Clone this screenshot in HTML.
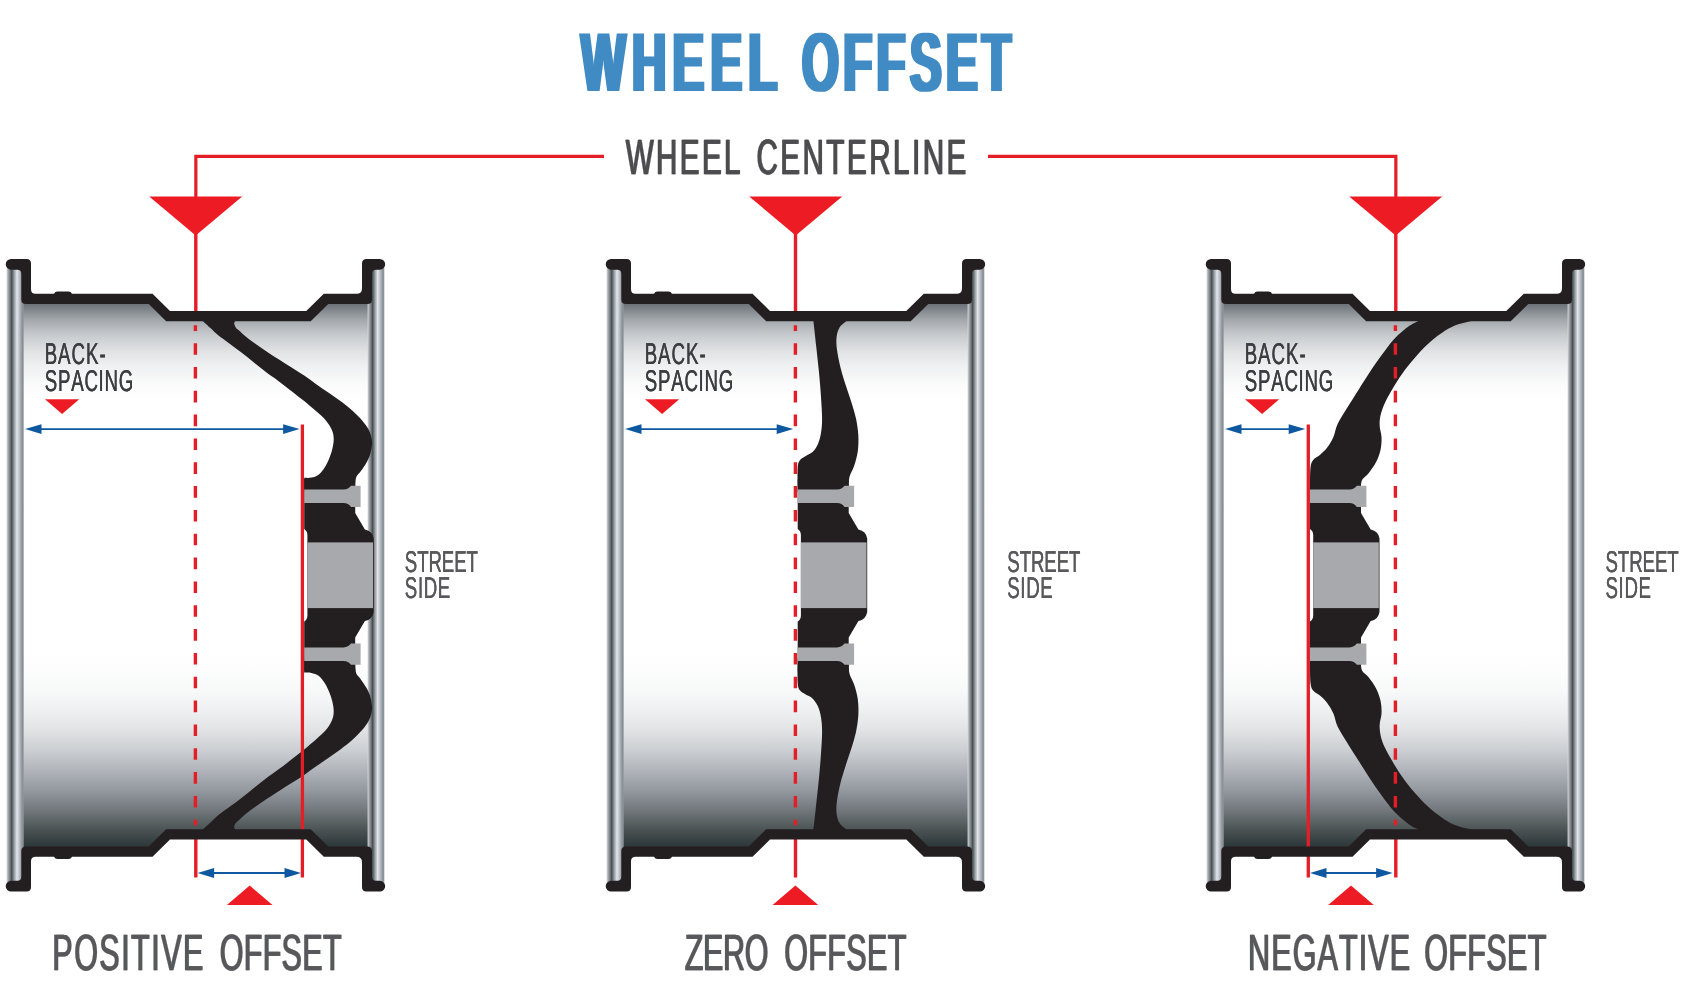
<!DOCTYPE html>
<html lang="en">
<head>
<meta charset="utf-8">
<title>Wheel Offset</title>
<style>
html,body{margin:0;padding:0;background:#fff;}
body{width:1700px;height:994px;overflow:hidden;}
svg{display:block;}
text{font-family:"Liberation Sans",sans-serif;font-kerning:none;text-rendering:geometricPrecision;}
</style>
</head>
<body>
<svg width="1700" height="994" viewBox="0 0 1700 994">
<defs>
<linearGradient id="gTop" gradientUnits="userSpaceOnUse" x1="0" y1="303" x2="0" y2="400"><stop offset="0" stop-color="#696f75"/><stop offset="0.17" stop-color="#a2a7ab"/><stop offset="0.33" stop-color="#c7cacd"/><stop offset="0.49" stop-color="#dfe1e3"/><stop offset="0.65" stop-color="#eff0f1"/><stop offset="0.85" stop-color="#fbfbfb"/><stop offset="1" stop-color="#ffffff"/></linearGradient>
<linearGradient id="gBot" gradientUnits="userSpaceOnUse" x1="0" y1="650" x2="0" y2="847"><stop offset="0" stop-color="#ffffff"/><stop offset="0.10" stop-color="#fdfdfd"/><stop offset="0.20" stop-color="#f8f9f9"/><stop offset="0.305" stop-color="#eff0f1"/><stop offset="0.41" stop-color="#e0e2e4"/><stop offset="0.51" stop-color="#cbced2"/><stop offset="0.61" stop-color="#b1b5bb"/><stop offset="0.715" stop-color="#92989e"/><stop offset="0.82" stop-color="#6f7579"/><stop offset="0.87" stop-color="#5b6365"/><stop offset="0.92" stop-color="#485052"/><stop offset="0.97" stop-color="#363f41"/><stop offset="1" stop-color="#2d3638"/></linearGradient>
<linearGradient id="gChrome" gradientUnits="objectBoundingBox" x1="0" y1="0" x2="1" y2="0"><stop offset="0" stop-color="#d4d6d9"/><stop offset="0.12" stop-color="#9a9ea3"/><stop offset="0.30" stop-color="#465052"/><stop offset="0.45" stop-color="#9aa0a3"/><stop offset="0.605" stop-color="#e4e6ea"/><stop offset="0.78" stop-color="#b0b6c0"/><stop offset="0.915" stop-color="#8a9194"/><stop offset="1" stop-color="#8f9598"/></linearGradient>
<filter id="fat" filterUnits="userSpaceOnUse" x="560" y="20" width="480" height="90"><feMorphology operator="dilate" radius="2 0"/></filter>
<filter id="fx4" x="-2%" y="-10%" width="104%" height="120%"><feOffset dx="0.4" dy="0" result="o"/><feMerge><feMergeNode in="SourceGraphic"/><feMergeNode in="o"/></feMerge></filter>
<filter id="fx6" x="-2%" y="-10%" width="104%" height="120%"><feOffset dx="0.6" dy="0" result="o"/><feMerge><feMergeNode in="SourceGraphic"/><feMergeNode in="o"/></feMerge></filter>
<filter id="fx8" x="-2%" y="-10%" width="104%" height="120%"><feOffset dx="0.8" dy="0" result="o"/><feMerge><feMergeNode in="SourceGraphic"/><feMergeNode in="o"/></feMerge></filter>
</defs>
<rect width="1700" height="994" fill="#ffffff"/>
<path d="M195.85,234 L195.85,156.3 L604,156.3" fill="none" stroke="#e31e26" stroke-width="3.2"/>
<path d="M1395.85,234 L1395.85,156.3 L988,156.3" fill="none" stroke="#e31e26" stroke-width="3.2"/>
<g transform="translate(0,0)"><path d="M22,301 L149,301 L166.4,318.5 L310.5,318.5 L328,301 L370,301 L370,576 L22,576 Z" fill="url(#gTop)"/><path d="M22,849.5 L149,849.5 L166.4,832 L310.5,832 L328,849.5 L370,849.5 L370,575 L22,575 Z" fill="url(#gBot)"/><rect x="6.6" y="266" width="17.1" height="618.5" fill="url(#gChrome)"/><rect x="367.6" y="266" width="16.7" height="618.5" fill="url(#gChrome)"/><path d="M202.7,314.9 L202.7,320.9 C204,322.1 207.9,325.6 210.5,328 C213.1,330.4 215.2,332.9 218.5,335.5 C221.8,338.1 226.1,341 230,343.9 C233.9,346.8 238.1,350 242.1,353.1 C246.1,356.2 250.2,359.6 254.2,362.8 C258.2,366 262.2,369.3 266.2,372.3 C270.2,375.3 274,377.7 278.3,380.9 C282.6,384.1 287.7,388 292,391.4 C296.3,394.8 300.2,397.8 304.2,401.1 C308.2,404.4 312.6,408.1 316.2,411.3 C319.8,414.5 323.3,417.3 325.9,420.4 C328.5,423.5 330.6,427 331.9,430 C333.2,433 333.6,435.5 333.7,438.5 C333.8,441.5 333.2,445 332.5,448.2 C331.8,451.4 330.8,454.6 329.5,457.8 C328.2,461 326.5,464.7 324.7,467.5 C322.9,470.3 320.8,473 318.6,474.7 C316.4,476.4 313.8,477.1 311.4,477.6 C309,478.1 305.4,477.8 304.2,477.8 L304.2,492 L355.2,492 L355.2,483.9 C355.4,482.8 355.4,479.1 356.3,477 C357.2,474.9 359.2,473.5 360.9,471.1 C362.6,468.7 364.8,465.5 366.4,462.7 C367.9,459.9 369.3,457.2 370.2,454.2 C371.1,451.2 371.8,447.3 372,444.5 C372.2,441.7 372,439.9 371.4,437.3 C370.8,434.7 369.8,431.6 368.2,428.8 C366.6,426 364.7,423.4 362.1,420.4 C359.5,417.4 356.1,413.9 352.5,410.7 C348.9,407.5 344.4,404.1 340.4,401.1 C336.4,398.1 332.3,395.4 328.3,392.6 C324.3,389.8 320.2,387 316.2,384.2 C312.2,381.4 308.2,378.3 304.2,375.6 C300.2,372.9 296.2,370.5 292,367.8 C287.8,365.1 283.3,362.4 279,359.6 C274.7,356.8 270.2,353.9 266.2,351.2 C262.2,348.5 258.4,346 255,343.6 C251.6,341.2 248.4,338.9 245.7,336.6 C242.9,334.4 240.2,331.6 238.5,330.1 C236.8,328.6 236.5,328.4 235.8,327.4 C235.1,326.3 234.3,324.9 234.2,323.8 C234.1,322.7 234.9,321.4 235,320.9 L235,314.9 Z" fill="#231f20"/><path d="M202.7,314.9 L202.7,320.9 C204,322.1 207.9,325.6 210.5,328 C213.1,330.4 215.2,332.9 218.5,335.5 C221.8,338.1 226.1,341 230,343.9 C233.9,346.8 238.1,350 242.1,353.1 C246.1,356.2 250.2,359.6 254.2,362.8 C258.2,366 262.2,369.3 266.2,372.3 C270.2,375.3 274,377.7 278.3,380.9 C282.6,384.1 287.7,388 292,391.4 C296.3,394.8 300.2,397.8 304.2,401.1 C308.2,404.4 312.6,408.1 316.2,411.3 C319.8,414.5 323.3,417.3 325.9,420.4 C328.5,423.5 330.6,427 331.9,430 C333.2,433 333.6,435.5 333.7,438.5 C333.8,441.5 333.2,445 332.5,448.2 C331.8,451.4 330.8,454.6 329.5,457.8 C328.2,461 326.5,464.7 324.7,467.5 C322.9,470.3 320.8,473 318.6,474.7 C316.4,476.4 313.8,477.1 311.4,477.6 C309,478.1 305.4,477.8 304.2,477.8 L304.2,492 L355.2,492 L355.2,483.9 C355.4,482.8 355.4,479.1 356.3,477 C357.2,474.9 359.2,473.5 360.9,471.1 C362.6,468.7 364.8,465.5 366.4,462.7 C367.9,459.9 369.3,457.2 370.2,454.2 C371.1,451.2 371.8,447.3 372,444.5 C372.2,441.7 372,439.9 371.4,437.3 C370.8,434.7 369.8,431.6 368.2,428.8 C366.6,426 364.7,423.4 362.1,420.4 C359.5,417.4 356.1,413.9 352.5,410.7 C348.9,407.5 344.4,404.1 340.4,401.1 C336.4,398.1 332.3,395.4 328.3,392.6 C324.3,389.8 320.2,387 316.2,384.2 C312.2,381.4 308.2,378.3 304.2,375.6 C300.2,372.9 296.2,370.5 292,367.8 C287.8,365.1 283.3,362.4 279,359.6 C274.7,356.8 270.2,353.9 266.2,351.2 C262.2,348.5 258.4,346 255,343.6 C251.6,341.2 248.4,338.9 245.7,336.6 C242.9,334.4 240.2,331.6 238.5,330.1 C236.8,328.6 236.5,328.4 235.8,327.4 C235.1,326.3 234.3,324.9 234.2,323.8 C234.1,322.7 234.9,321.4 235,320.9 L235,314.9 Z" fill="#231f20" transform="translate(0,1150.5) scale(1,-1)"/><g transform="translate(0,0)"><path d="M304.2,479 L355.2,479 L355.2,513 L364.9,529.5 Q372.6,531 373.7,538.5 L373.7,612 Q372.6,619.5 364.9,621 L355.2,637.5 L355.2,671.5 L304.2,671.5 L304.2,621.5 Q307.4,619.5 307.4,615.5 L307.4,535 Q307.4,531 304.2,529 Z" fill="#231f20"/><rect x="307.4" y="542.4" width="65.6" height="65.7" fill="#a7a9ac"/><path d="M304.2,489.5 L343.5,489.5 Q348.5,489.2 351,485.7 L360.6,485.7 L360.6,506.9 L351,506.9 Q348.5,503.4 343.5,503.1 L304.2,503.1 Z" fill="#a7a9ac"/><path d="M304.2,661 L343.5,661 Q348.5,661.3 351,664.8 L360.6,664.8 L360.6,643.6 L351,643.6 Q348.5,647.1 343.5,647.4 L304.2,647.4 Z" fill="#a7a9ac"/></g><line x1="195.8" y1="230" x2="195.8" y2="312" stroke="#e31e26" stroke-width="3.4"/><line x1="195.8" y1="838" x2="195.8" y2="877.5" stroke="#e31e26" stroke-width="3.4"/><line x1="195.4" y1="325.2" x2="195.4" y2="825.3" stroke="#e31e26" stroke-width="3.4" stroke-dasharray="11.6 12.23" stroke-dashoffset="5.9"/><line x1="302.4" y1="424.6" x2="302.4" y2="877.5" stroke="#e31e26" stroke-width="3.3"/><path d="M11.1,258.9 L26.5,258.9 Q31,258.9 31,263.4 L31,289.2 Q31,293.7 35.5,293.7 L54,293.7 Q55,291.4 57.5,291.4 L68.5,291.4 Q71,291.4 72,293.7 L152.5,293.7 L170,311 L306.3,311 L323.8,293.7 L356.5,293.7 Q362,293.7 362,288.2 L362,263.4 Q362,258.9 366.5,258.9 L379.8,258.9 A5.4,5.4 0 0 1 379.8,269.7 L376,269.7 Q372,269.7 372,273.7 L372,299.4 Q372,304 367.4,304 L328.2,304 L310.7,321.2 L166.2,321.2 L148.8,304 L26,304 Q21.3,304 21.3,299.4 L21.3,273.7 Q21.3,269.7 17.3,269.7 L11.1,269.7 A5.4,5.4 0 0 1 11.1,258.9 Z" fill="#231f20"/><path d="M11.1,258.9 L26.5,258.9 Q31,258.9 31,263.4 L31,289.2 Q31,293.7 35.5,293.7 L54,293.7 Q55,291.4 57.5,291.4 L68.5,291.4 Q71,291.4 72,293.7 L152.5,293.7 L170,311 L306.3,311 L323.8,293.7 L356.5,293.7 Q362,293.7 362,288.2 L362,263.4 Q362,258.9 366.5,258.9 L379.8,258.9 A5.4,5.4 0 0 1 379.8,269.7 L376,269.7 Q372,269.7 372,273.7 L372,299.4 Q372,304 367.4,304 L328.2,304 L310.7,321.2 L166.2,321.2 L148.8,304 L26,304 Q21.3,304 21.3,299.4 L21.3,273.7 Q21.3,269.7 17.3,269.7 L11.1,269.7 A5.4,5.4 0 0 1 11.1,258.9 Z" fill="#231f20" transform="translate(0,1150.5) scale(1,-1)"/><path d="M149.2,196.4 L242.2,196.4 L195.7,235.4 Z" fill="#ed1c24"/><path d="M45,399.3 L79.2,399.3 L62.1,414 Z" fill="#ed1c24"/><line x1="35" y1="429.1" x2="289.6" y2="429.1" stroke="#0d589f" stroke-width="1.9"/><path d="M25,429.1 l16.5,-4.9 l0,9.8 Z" fill="#0d589f"/><path d="M299.6,429.1 l-16.5,-4.9 l0,9.8 Z" fill="#0d589f"/><line x1="207.6" y1="873" x2="291" y2="873" stroke="#0d589f" stroke-width="1.9"/><path d="M197.6,873 l16.5,-4.9 l0,9.8 Z" fill="#0d589f"/><path d="M301,873 l-16.5,-4.9 l0,9.8 Z" fill="#0d589f"/><path d="M226.9,905 L272.5,905 L249.7,885.5 Z" fill="#ed1c24"/></g>
<g transform="translate(600,0)"><path d="M22,301 L149,301 L166.4,318.5 L310.5,318.5 L328,301 L370,301 L370,576 L22,576 Z" fill="url(#gTop)"/><path d="M22,849.5 L149,849.5 L166.4,832 L310.5,832 L328,849.5 L370,849.5 L370,575 L22,575 Z" fill="url(#gBot)"/><rect x="6.6" y="266" width="17.1" height="618.5" fill="url(#gChrome)"/><rect x="367.6" y="266" width="16.7" height="618.5" fill="url(#gChrome)"/><path d="M213.4,314.9 L213.4,320.9 C213.9,325.1 215.3,337.8 216.2,346.2 C217.1,354.6 218.1,363.1 218.9,371.5 C219.7,379.9 220.5,389 221,396.9 C221.5,404.8 222.1,412.6 222.1,418.6 C222.1,424.6 221.7,428.9 221,433.1 C220.3,437.3 219.4,440.7 218,443.9 C216.6,447.1 214.6,450.1 212.5,452.1 C210.4,454.2 207.4,454.9 205.3,456.2 C203.2,457.5 201.2,458.3 199.9,460.2 C198.6,462.1 198.1,462.7 197.7,467.5 C197.3,472.3 197.7,485.6 197.7,489.2 L197.7,492 L248.7,492 L248.7,484.7 C248.8,483.3 248.7,479.7 249.6,476.5 C250.5,473.3 252.8,469.9 254.2,465.7 C255.6,461.5 257.1,456.3 257.8,451.2 C258.5,446.1 258.6,440.3 258.3,434.9 C258,429.5 257.1,424 256,418.6 C254.8,413.2 253.1,407.7 251.4,402.3 C249.7,396.9 247.8,391.7 246,386 C244.2,380.3 242.1,373.9 240.6,367.9 C239.1,361.9 237.7,354.9 237,349.8 C236.3,344.7 236.2,340.9 236.6,337.1 C237,333.3 238,329.9 239.7,327.2 C241.3,324.5 245.4,321.9 246.5,320.9 L246.5,314.9 Z" fill="#231f20"/><path d="M213.4,314.9 L213.4,320.9 C213.9,325.1 215.3,337.8 216.2,346.2 C217.1,354.6 218.1,363.1 218.9,371.5 C219.7,379.9 220.5,389 221,396.9 C221.5,404.8 222.1,412.6 222.1,418.6 C222.1,424.6 221.7,428.9 221,433.1 C220.3,437.3 219.4,440.7 218,443.9 C216.6,447.1 214.6,450.1 212.5,452.1 C210.4,454.2 207.4,454.9 205.3,456.2 C203.2,457.5 201.2,458.3 199.9,460.2 C198.6,462.1 198.1,462.7 197.7,467.5 C197.3,472.3 197.7,485.6 197.7,489.2 L197.7,492 L248.7,492 L248.7,484.7 C248.8,483.3 248.7,479.7 249.6,476.5 C250.5,473.3 252.8,469.9 254.2,465.7 C255.6,461.5 257.1,456.3 257.8,451.2 C258.5,446.1 258.6,440.3 258.3,434.9 C258,429.5 257.1,424 256,418.6 C254.8,413.2 253.1,407.7 251.4,402.3 C249.7,396.9 247.8,391.7 246,386 C244.2,380.3 242.1,373.9 240.6,367.9 C239.1,361.9 237.7,354.9 237,349.8 C236.3,344.7 236.2,340.9 236.6,337.1 C237,333.3 238,329.9 239.7,327.2 C241.3,324.5 245.4,321.9 246.5,320.9 L246.5,314.9 Z" fill="#231f20" transform="translate(0,1150.5) scale(1,-1)"/><g transform="translate(-106.5,0)"><path d="M304.2,479 L355.2,479 L355.2,513 L364.9,529.5 Q372.6,531 373.7,538.5 L373.7,612 Q372.6,619.5 364.9,621 L355.2,637.5 L355.2,671.5 L304.2,671.5 L304.2,621.5 Q307.4,619.5 307.4,615.5 L307.4,535 Q307.4,531 304.2,529 Z" fill="#231f20"/><rect x="307.4" y="542.4" width="65.6" height="65.7" fill="#a7a9ac"/><path d="M304.2,489.5 L343.5,489.5 Q348.5,489.2 351,485.7 L360.6,485.7 L360.6,506.9 L351,506.9 Q348.5,503.4 343.5,503.1 L304.2,503.1 Z" fill="#a7a9ac"/><path d="M304.2,661 L343.5,661 Q348.5,661.3 351,664.8 L360.6,664.8 L360.6,643.6 L351,643.6 Q348.5,647.1 343.5,647.4 L304.2,647.4 Z" fill="#a7a9ac"/></g><line x1="195.5" y1="230" x2="195.5" y2="312" stroke="#e31e26" stroke-width="3.4"/><line x1="195.5" y1="838" x2="195.5" y2="877.5" stroke="#e31e26" stroke-width="3.4"/><line x1="195.4" y1="325.2" x2="195.4" y2="825.3" stroke="#e31e26" stroke-width="3.4" stroke-dasharray="11.6 12.23" stroke-dashoffset="5.9"/><path d="M11.1,258.9 L26.5,258.9 Q31,258.9 31,263.4 L31,289.2 Q31,293.7 35.5,293.7 L54,293.7 Q55,291.4 57.5,291.4 L68.5,291.4 Q71,291.4 72,293.7 L152.5,293.7 L170,311 L306.3,311 L323.8,293.7 L356.5,293.7 Q362,293.7 362,288.2 L362,263.4 Q362,258.9 366.5,258.9 L379.8,258.9 A5.4,5.4 0 0 1 379.8,269.7 L376,269.7 Q372,269.7 372,273.7 L372,299.4 Q372,304 367.4,304 L328.2,304 L310.7,321.2 L166.2,321.2 L148.8,304 L26,304 Q21.3,304 21.3,299.4 L21.3,273.7 Q21.3,269.7 17.3,269.7 L11.1,269.7 A5.4,5.4 0 0 1 11.1,258.9 Z" fill="#231f20"/><path d="M11.1,258.9 L26.5,258.9 Q31,258.9 31,263.4 L31,289.2 Q31,293.7 35.5,293.7 L54,293.7 Q55,291.4 57.5,291.4 L68.5,291.4 Q71,291.4 72,293.7 L152.5,293.7 L170,311 L306.3,311 L323.8,293.7 L356.5,293.7 Q362,293.7 362,288.2 L362,263.4 Q362,258.9 366.5,258.9 L379.8,258.9 A5.4,5.4 0 0 1 379.8,269.7 L376,269.7 Q372,269.7 372,273.7 L372,299.4 Q372,304 367.4,304 L328.2,304 L310.7,321.2 L166.2,321.2 L148.8,304 L26,304 Q21.3,304 21.3,299.4 L21.3,273.7 Q21.3,269.7 17.3,269.7 L11.1,269.7 A5.4,5.4 0 0 1 11.1,258.9 Z" fill="#231f20" transform="translate(0,1150.5) scale(1,-1)"/><path d="M149.2,196.4 L242.2,196.4 L195.7,235.4 Z" fill="#ed1c24"/><path d="M45,399.3 L79.2,399.3 L62.1,414 Z" fill="#ed1c24"/><line x1="35" y1="429.1" x2="183.2" y2="429.1" stroke="#0d589f" stroke-width="1.9"/><path d="M25,429.1 l16.5,-4.9 l0,9.8 Z" fill="#0d589f"/><path d="M193.2,429.1 l-16.5,-4.9 l0,9.8 Z" fill="#0d589f"/><path d="M172.6,905 L218.2,905 L195.4,885.5 Z" fill="#ed1c24"/></g>
<g transform="translate(1200,0)"><path d="M22,301 L149,301 L166.4,318.5 L310.5,318.5 L328,301 L370,301 L370,576 L22,576 Z" fill="url(#gTop)"/><path d="M22,849.5 L149,849.5 L166.4,832 L310.5,832 L328,849.5 L370,849.5 L370,575 L22,575 Z" fill="url(#gBot)"/><rect x="6.6" y="266" width="17.1" height="618.5" fill="url(#gChrome)"/><rect x="367.6" y="266" width="16.7" height="618.5" fill="url(#gChrome)"/><path d="M218.6,314.9 L218.6,320.9 C216.9,321.8 212.8,323.3 208.7,326.3 C204.6,329.3 198.7,334.2 194.2,339 C189.7,343.8 185.5,349.9 181.5,355.3 C177.5,360.7 174,365.9 170.2,371.6 C166.4,377.3 162.4,383.7 158.6,389.7 C154.8,395.7 150.7,402.1 147.2,407.8 C143.7,413.5 139.9,419.3 137.6,424.1 C135.3,428.9 135.2,432.9 133.5,436.8 C131.8,440.7 129.5,444.6 127.2,447.6 C124.9,450.6 122.2,452.9 119.9,454.9 C117.6,456.9 115.2,457.3 113.6,459.4 C112,461.5 111.1,462.5 110.5,467.5 C109.9,472.5 110.1,485.7 110,489.3 L110,492 L161,492 L161,484.8 C161.2,483.9 161.2,481.3 162.5,479.3 C163.8,477.3 166.5,475.9 168.8,473 C171.1,470.1 174.1,466 176.1,462.1 C178.1,458.2 179.7,453.6 180.6,449.4 C181.5,445.2 181.7,440.7 181.5,436.8 C181.3,432.9 179.8,429.5 179.7,425.9 C179.5,422.3 179.7,418.9 180.6,415 C181.5,411.1 182.8,407.2 185.1,402.4 C187.4,397.6 190.9,391.5 194.2,386.1 C197.5,380.7 201.1,375.1 205,369.8 C208.9,364.5 213.5,359.1 217.7,354.4 C221.9,349.7 225.9,345.6 230.4,341.7 C234.9,337.8 240.4,333.7 244.9,330.8 C249.4,327.9 253.1,326.1 257.5,324.5 C261.9,322.9 269.2,321.5 271.5,320.9 L271.5,314.9 Z" fill="#231f20"/><path d="M218.6,314.9 L218.6,320.9 C216.9,321.8 212.8,323.3 208.7,326.3 C204.6,329.3 198.7,334.2 194.2,339 C189.7,343.8 185.5,349.9 181.5,355.3 C177.5,360.7 174,365.9 170.2,371.6 C166.4,377.3 162.4,383.7 158.6,389.7 C154.8,395.7 150.7,402.1 147.2,407.8 C143.7,413.5 139.9,419.3 137.6,424.1 C135.3,428.9 135.2,432.9 133.5,436.8 C131.8,440.7 129.5,444.6 127.2,447.6 C124.9,450.6 122.2,452.9 119.9,454.9 C117.6,456.9 115.2,457.3 113.6,459.4 C112,461.5 111.1,462.5 110.5,467.5 C109.9,472.5 110.1,485.7 110,489.3 L110,492 L161,492 L161,484.8 C161.2,483.9 161.2,481.3 162.5,479.3 C163.8,477.3 166.5,475.9 168.8,473 C171.1,470.1 174.1,466 176.1,462.1 C178.1,458.2 179.7,453.6 180.6,449.4 C181.5,445.2 181.7,440.7 181.5,436.8 C181.3,432.9 179.8,429.5 179.7,425.9 C179.5,422.3 179.7,418.9 180.6,415 C181.5,411.1 182.8,407.2 185.1,402.4 C187.4,397.6 190.9,391.5 194.2,386.1 C197.5,380.7 201.1,375.1 205,369.8 C208.9,364.5 213.5,359.1 217.7,354.4 C221.9,349.7 225.9,345.6 230.4,341.7 C234.9,337.8 240.4,333.7 244.9,330.8 C249.4,327.9 253.1,326.1 257.5,324.5 C261.9,322.9 269.2,321.5 271.5,320.9 L271.5,314.9 Z" fill="#231f20" transform="translate(0,1150.5) scale(1,-1)"/><g transform="translate(-194.2,0)"><path d="M304.2,479 L355.2,479 L355.2,513 L364.9,529.5 Q372.6,531 373.7,538.5 L373.7,612 Q372.6,619.5 364.9,621 L355.2,637.5 L355.2,671.5 L304.2,671.5 L304.2,621.5 Q307.4,619.5 307.4,615.5 L307.4,535 Q307.4,531 304.2,529 Z" fill="#231f20"/><rect x="307.4" y="542.4" width="65.6" height="65.7" fill="#a7a9ac"/><path d="M304.2,489.5 L343.5,489.5 Q348.5,489.2 351,485.7 L360.6,485.7 L360.6,506.9 L351,506.9 Q348.5,503.4 343.5,503.1 L304.2,503.1 Z" fill="#a7a9ac"/><path d="M304.2,661 L343.5,661 Q348.5,661.3 351,664.8 L360.6,664.8 L360.6,643.6 L351,643.6 Q348.5,647.1 343.5,647.4 L304.2,647.4 Z" fill="#a7a9ac"/></g><line x1="195.8" y1="230" x2="195.8" y2="312" stroke="#e31e26" stroke-width="3.4"/><line x1="195.8" y1="838" x2="195.8" y2="877.5" stroke="#e31e26" stroke-width="3.4"/><line x1="195.4" y1="325.2" x2="195.4" y2="825.3" stroke="#e31e26" stroke-width="3.4" stroke-dasharray="11.6 12.23" stroke-dashoffset="5.9"/><line x1="108.3" y1="424.6" x2="108.3" y2="877.5" stroke="#e31e26" stroke-width="3.3"/><path d="M11.1,258.9 L26.5,258.9 Q31,258.9 31,263.4 L31,289.2 Q31,293.7 35.5,293.7 L54,293.7 Q55,291.4 57.5,291.4 L68.5,291.4 Q71,291.4 72,293.7 L152.5,293.7 L170,311 L306.3,311 L323.8,293.7 L356.5,293.7 Q362,293.7 362,288.2 L362,263.4 Q362,258.9 366.5,258.9 L379.8,258.9 A5.4,5.4 0 0 1 379.8,269.7 L376,269.7 Q372,269.7 372,273.7 L372,299.4 Q372,304 367.4,304 L328.2,304 L310.7,321.2 L166.2,321.2 L148.8,304 L26,304 Q21.3,304 21.3,299.4 L21.3,273.7 Q21.3,269.7 17.3,269.7 L11.1,269.7 A5.4,5.4 0 0 1 11.1,258.9 Z" fill="#231f20"/><path d="M11.1,258.9 L26.5,258.9 Q31,258.9 31,263.4 L31,289.2 Q31,293.7 35.5,293.7 L54,293.7 Q55,291.4 57.5,291.4 L68.5,291.4 Q71,291.4 72,293.7 L152.5,293.7 L170,311 L306.3,311 L323.8,293.7 L356.5,293.7 Q362,293.7 362,288.2 L362,263.4 Q362,258.9 366.5,258.9 L379.8,258.9 A5.4,5.4 0 0 1 379.8,269.7 L376,269.7 Q372,269.7 372,273.7 L372,299.4 Q372,304 367.4,304 L328.2,304 L310.7,321.2 L166.2,321.2 L148.8,304 L26,304 Q21.3,304 21.3,299.4 L21.3,273.7 Q21.3,269.7 17.3,269.7 L11.1,269.7 A5.4,5.4 0 0 1 11.1,258.9 Z" fill="#231f20" transform="translate(0,1150.5) scale(1,-1)"/><path d="M149.2,196.4 L242.2,196.4 L195.7,235.4 Z" fill="#ed1c24"/><path d="M45,399.3 L79.2,399.3 L62.1,414 Z" fill="#ed1c24"/><line x1="35" y1="429.1" x2="95.2" y2="429.1" stroke="#0d589f" stroke-width="1.9"/><path d="M25,429.1 l16.5,-4.9 l0,9.8 Z" fill="#0d589f"/><path d="M105.2,429.1 l-16.5,-4.9 l0,9.8 Z" fill="#0d589f"/><line x1="120" y1="873" x2="182.6" y2="873" stroke="#0d589f" stroke-width="1.9"/><path d="M110,873 l16.5,-4.9 l0,9.8 Z" fill="#0d589f"/><path d="M192.6,873 l-16.5,-4.9 l0,9.8 Z" fill="#0d589f"/><path d="M128.2,905 L173.8,905 L151,885.5 Z" fill="#ed1c24"/></g>
<g filter="url(#fat)"><text transform="translate(581,91.4) scale(0.567,1)" font-size="83.6" font-weight="bold" fill="#3f8bc3" xml:space="preserve"><tspan letter-spacing="11.1">WHEEL </tspan><tspan dx="-2" letter-spacing="7.8">OFFSET</tspan></text></g>
<g opacity="0.999">
<g filter="url(#fx8)"><text transform="scale(0.6,1)" y="174.4" font-size="49.4" font-weight="normal" fill="#4d4d4f" xml:space="preserve" stroke="#4d4d4f" stroke-width="0.3"><tspan x="1041.95" letter-spacing="3.97">WHEEL </tspan><tspan x="1259.85" letter-spacing="4.11">CENTERLINE</tspan></text></g>
<g filter="url(#fx4)"><text transform="scale(0.62,1)" y="364" font-size="30.1" font-weight="normal" fill="#3b3d40" xml:space="preserve" stroke="#3b3d40" stroke-width="0.2"><tspan x="71.99" letter-spacing="1.65">BACK-</tspan></text></g>
<g filter="url(#fx4)"><text transform="scale(0.62,1)" y="391.4" font-size="30.1" font-weight="normal" fill="#3b3d40" xml:space="preserve" stroke="#3b3d40" stroke-width="0.2"><tspan x="72.29" letter-spacing="1.20">SPACING</tspan></text></g>
<g filter="url(#fx4)"><text transform="scale(0.62,1)" y="364" font-size="30.1" font-weight="normal" fill="#3b3d40" xml:space="preserve" stroke="#3b3d40" stroke-width="0.2"><tspan x="1039.73" letter-spacing="1.65">BACK-</tspan></text></g>
<g filter="url(#fx4)"><text transform="scale(0.62,1)" y="391.4" font-size="30.1" font-weight="normal" fill="#3b3d40" xml:space="preserve" stroke="#3b3d40" stroke-width="0.2"><tspan x="1040.04" letter-spacing="1.20">SPACING</tspan></text></g>
<g filter="url(#fx4)"><text transform="scale(0.62,1)" y="364" font-size="30.1" font-weight="normal" fill="#3b3d40" xml:space="preserve" stroke="#3b3d40" stroke-width="0.2"><tspan x="2007.47" letter-spacing="1.65">BACK-</tspan></text></g>
<g filter="url(#fx4)"><text transform="scale(0.62,1)" y="391.4" font-size="30.1" font-weight="normal" fill="#3b3d40" xml:space="preserve" stroke="#3b3d40" stroke-width="0.2"><tspan x="2007.78" letter-spacing="1.20">SPACING</tspan></text></g>
<g filter="url(#fx4)"><text transform="scale(0.62,1)" y="571.6" font-size="30.1" font-weight="normal" fill="#58595b" xml:space="preserve" stroke="#58595b" stroke-width="0.2"><tspan x="652.94" letter-spacing="-0.15">STREET</tspan></text></g>
<g filter="url(#fx4)"><text transform="scale(0.62,1)" y="598.4" font-size="30.1" font-weight="normal" fill="#58595b" xml:space="preserve" stroke="#58595b" stroke-width="0.2"><tspan x="652.94" letter-spacing="0.99">SIDE</tspan></text></g>
<g filter="url(#fx4)"><text transform="scale(0.62,1)" y="571.6" font-size="30.1" font-weight="normal" fill="#58595b" xml:space="preserve" stroke="#58595b" stroke-width="0.2"><tspan x="1624.71" letter-spacing="-0.15">STREET</tspan></text></g>
<g filter="url(#fx4)"><text transform="scale(0.62,1)" y="598.4" font-size="30.1" font-weight="normal" fill="#58595b" xml:space="preserve" stroke="#58595b" stroke-width="0.2"><tspan x="1624.71" letter-spacing="0.99">SIDE</tspan></text></g>
<g filter="url(#fx4)"><text transform="scale(0.62,1)" y="571.6" font-size="30.1" font-weight="normal" fill="#58595b" xml:space="preserve" stroke="#58595b" stroke-width="0.2"><tspan x="2589.55" letter-spacing="-0.15">STREET</tspan></text></g>
<g filter="url(#fx4)"><text transform="scale(0.62,1)" y="598.4" font-size="30.1" font-weight="normal" fill="#58595b" xml:space="preserve" stroke="#58595b" stroke-width="0.2"><tspan x="2589.55" letter-spacing="0.99">SIDE</tspan></text></g>
<g filter="url(#fx8)"><text transform="scale(0.6,1)" y="969.9" font-size="50.9" font-weight="normal" fill="#58595b" xml:space="preserve" stroke="#58595b" stroke-width="0.3"><tspan x="86.39" letter-spacing="2.43">POSITIVE </tspan><tspan x="365.26" letter-spacing="0.48">OFFSET</tspan></text></g>
<g filter="url(#fx8)"><text transform="scale(0.6,1)" y="969.9" font-size="50.9" font-weight="normal" fill="#58595b" xml:space="preserve" stroke="#58595b" stroke-width="0.3"><tspan x="1140.24" letter-spacing="-0.50">ZERO </tspan><tspan x="1306.09" letter-spacing="0.64">OFFSET</tspan></text></g>
<g filter="url(#fx8)"><text transform="scale(0.6,1)" y="969.9" font-size="50.9" font-weight="normal" fill="#58595b" xml:space="preserve" stroke="#58595b" stroke-width="0.3"><tspan x="2079.31" letter-spacing="1.82">NEGATIVE </tspan><tspan x="2372.76" letter-spacing="0.64">OFFSET</tspan></text></g>
</g>
</svg>
</body>
</html>
